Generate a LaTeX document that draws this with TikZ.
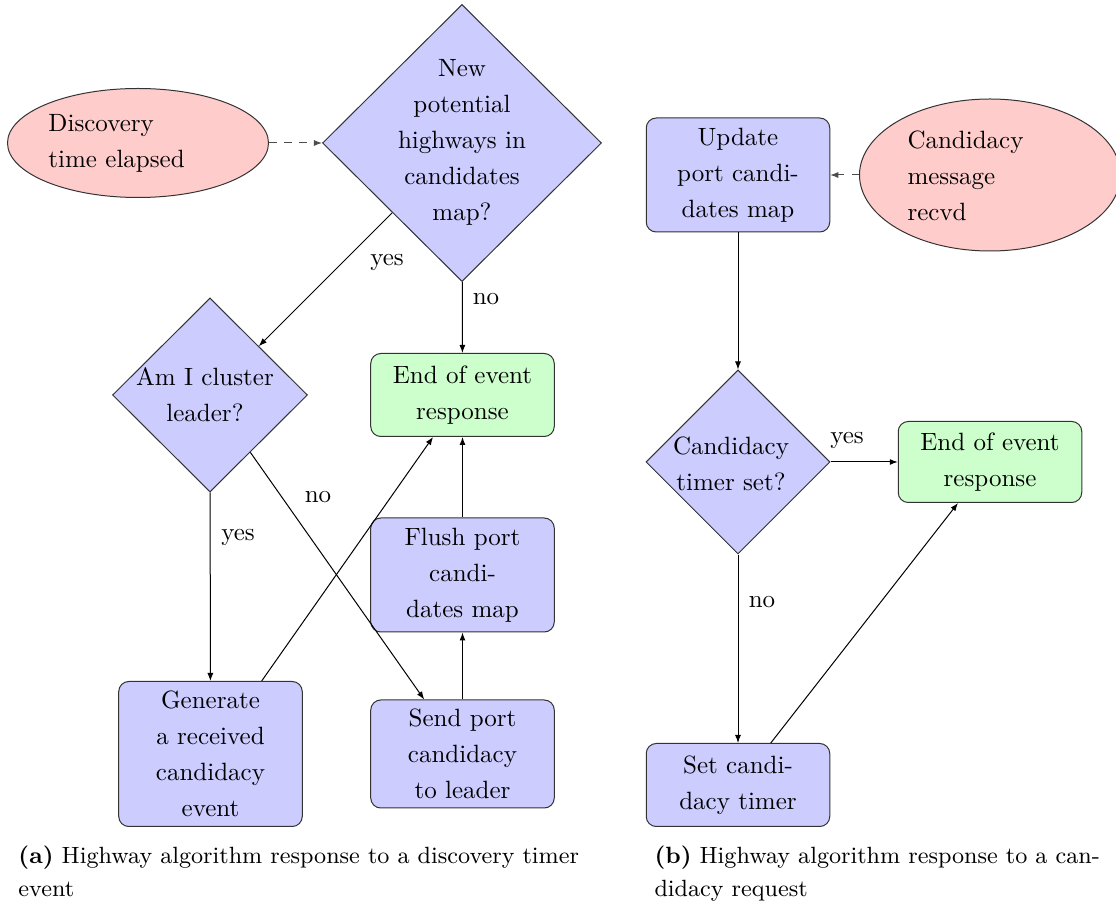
\documentclass[tikz,border=0pt]{standalone}
\usetikzlibrary{shapes.geometric,arrows.meta}
\begin{document}
\begin{tikzpicture}[x=0.4pt,y=-0.4pt,
  every node/.style={font=\fontsize{10}{14.4}\selectfont},
  box/.style={draw=black!80, fill=blue!20, rounded corners=4pt,
    minimum width=73.4pt, inner sep=0pt, align=center},
  endbox/.style={box, fill=green!20},
  dec/.style={draw=black!80, fill=blue!20, diamond, inner sep=0pt},
  event/.style={draw=black!80, fill=red!20, ellipse, inner sep=0pt},
  txt/.style={inner sep=0pt, align=center},
  lefttxt/.style={inner sep=0pt, anchor=west, align=left},
  arr/.style={-{Latex[length=3.2pt,width=2.4pt]}},
  dasharr/.style={arr, dashed, draw=black!70},
  lbl/.style={inner sep=0pt},
  capt/.style={inner sep=0pt, anchor=north west, align=left,
    font=\fontsize{9.4}{13.2}\selectfont},
]
\useasboundingbox (0,0) rectangle (1116,905);

% ---- (a) discovery timer ----
\node[event, minimum width=104.4pt, minimum height=43.6pt] (disc) at (138,143) {};
\node[lefttxt] (disctxt) at (48,143) {Discovery\\time elapsed};

\node[dec, minimum width=111.6pt, minimum height=110.8pt] (newhw) at (462,143) {};
\node[txt] (newhwtxt) at (462,142) {New\\potential\\highways in\\candidates\\map?};

\node[dec, minimum width=78pt, minimum height=77.6pt] (leader) at (210,395) {};
\node[txt] (leadertxt) at (205,395) {Am I cluster\\leader?};

\node[endbox, minimum height=33.2pt] (endA) at (462.5,395) {End of event\\response};
\node[box, minimum height=45.6pt] (flush) at (462.5,575) {Flush port\\candi-\\dates map};
\node[box, minimum height=43.2pt] (send) at (462.5,754) {Send port\\candidacy\\to leader};
\node[box, minimum height=58pt] (gen) at (210.5,754) {Generate\\a received\\candidacy\\event};

\draw[dasharr] (disc) -- (newhw);
\draw[arr] (newhw) -- (leader);
\draw[arr] (newhw) -- (endA);
\draw[arr] (leader) -- (gen);
\draw[arr] (leader) -- (send);
\draw[arr] (gen) -- (endA);
\draw[arr] (send) -- (flush);
\draw[arr] (flush) -- (endA);

\node[lbl] (yesA1) at (387,262) {yes};
\node[lbl] (noA1) at (486,299) {no};
\node[lbl] (noA2) at (318,497) {no};
\node[lbl] (yesA2) at (238,537) {yes};

\node[capt] (captA) at (18,845) {\textbf{(a)} Highway algorithm response to a discovery timer\\event};

% ---- (b) candidacy request ----
\node[box, minimum height=45.6pt] (upd) at (738,175) {Update\\port candi-\\dates map};
\node[event, minimum width=104.4pt, minimum height=60.8pt] (cand) at (990,175) {};
\node[lefttxt] (candtxt) at (907,176) {Candidacy\\message\\recvd};

\node[dec, minimum width=73.6pt, minimum height=73.6pt] (timer) at (738,462) {};
\node[txt] (timertxt) at (731,464) {Candidacy\\timer set?};

\node[endbox, minimum height=32.4pt] (endB) at (990,462) {End of event\\response};
\node[box, minimum height=33.2pt] (setT) at (738,785) {Set candi-\\dacy timer};

\draw[dasharr] (cand) -- (upd);
\draw[arr] (upd) -- (timer);
\draw[arr] (timer) -- (endB);
\draw[arr] (timer) -- (setT);
\draw[arr] (setT) -- (endB);

\node[lbl] (yesB) at (847,440) {yes};
\node[lbl] (noB) at (762,602) {no};

\node[capt] (captB) at (654,845) {\textbf{(b)} Highway algorithm response to a can-\\didacy request};
\end{tikzpicture}
\end{document}
